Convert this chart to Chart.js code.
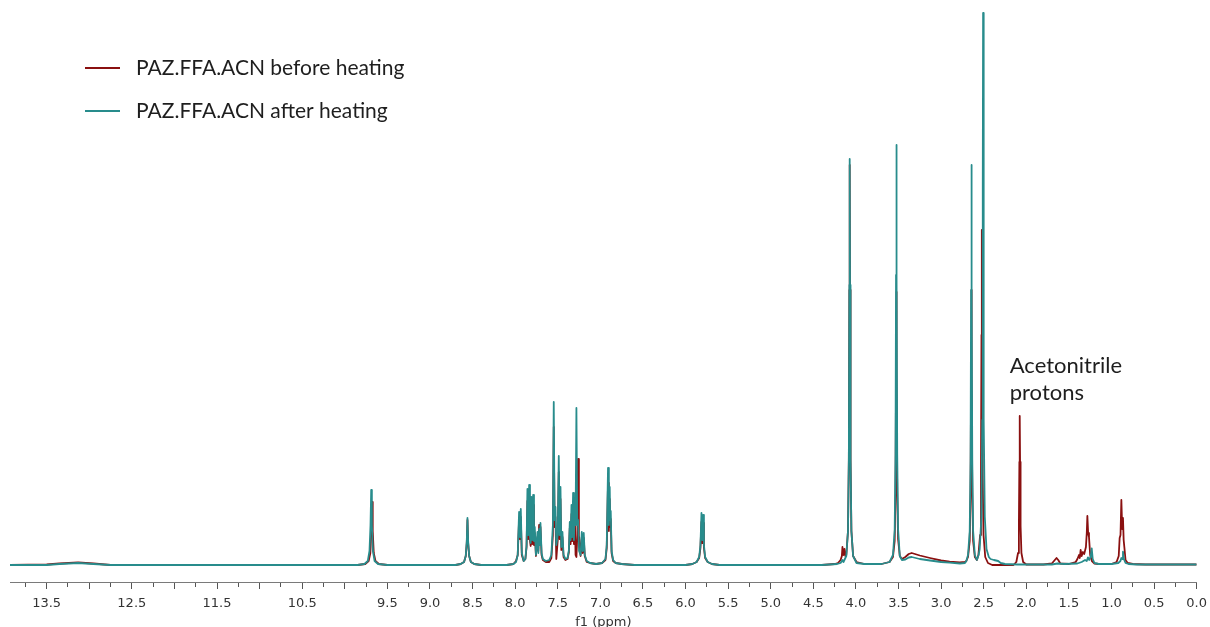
<!DOCTYPE html>
<html>
<head>
<meta charset="utf-8">
<title>PAZ.FFA.ACN 1H NMR</title>
<script src="https://cdn.jsdelivr.net/npm/chart.js@4.4.1/dist/chart.umd.min.js"></script>
<style>
  html, body { margin: 0; padding: 0; background: #fff; }
  #wrap { position: relative; width: 1210px; height: 627px; }
</style>
</head>
<body>
<div id="wrap"><canvas id="nmr"></canvas></div>
<script>
// chemical shift window (ppm), drawn high -> low like a normal 1H spectrum
const ppmMax = 13.93;
const ppmMin = 0;

// labels printed under the axis (left side only every 1 ppm)
const axisLabels = ['13.5', '12.5', '11.5', '10.5', '9.5', '9.0', '8.5', '8.0', '7.5', '7.0',
  '6.5', '6.0', '5.5', '5.0', '4.5', '4.0', '3.5', '3.0', '2.5', '2.0', '1.5', '1.0', '0.5', '0.0'];

const seriesNames = ['PAZ.FFA.ACN before heating', 'PAZ.FFA.ACN after heating'];

// [ppm, intensity], baseline = 0
const beforeHeating = [
  [13.93, 0], [13.5, 0.5], [13.35, 1.5], [13.13, 2.5], [12.95, 1.5], [12.75, 0],
  [9.85, 0], [9.76, 1], [9.72, 4], [9.70, 12], [9.688, 34], [9.68, 63], [9.672, 34], [9.66, 12], [9.64, 4], [9.60, 1], [9.50, 0],
  [8.70, 0], [8.64, 1], [8.60, 3], [8.58, 9], [8.568, 22], [8.56, 45], [8.552, 22], [8.54, 9], [8.52, 3], [8.48, 1], [8.40, 0],
  [8.10, 0], [8.02, 1], [7.99, 4], [7.97, 10], [7.954, 45], [7.944, 26], [7.934, 48], [7.922, 10], [7.90, 4], [7.88, 6],
  [7.866, 18], [7.856, 64], [7.846, 26], [7.836, 68], [7.826, 24], [7.818, 19], [7.809, 58], [7.799, 21], [7.789, 60],
  [7.779, 20], [7.770, 32], [7.756, 9], [7.738, 28], [7.728, 14], [7.719, 40], [7.711, 22], [7.703, 38], [7.69, 10],
  [7.675, 5], [7.64, 3], [7.60, 3], [7.575, 7], [7.557, 30], [7.547, 138], [7.537, 38], [7.527, 48], [7.517, 6],
  [7.50, 25], [7.488, 93], [7.478, 26], [7.468, 66], [7.458, 15], [7.445, 28], [7.432, 8], [7.41, 5], [7.385, 6],
  [7.369, 13], [7.359, 37], [7.349, 21], [7.339, 51], [7.33, 24], [7.320, 61], [7.310, 21], [7.300, 53], [7.291, 10],
  [7.281, 8], [7.27, 30], [7.262, 106], [7.252, 30], [7.232, 9], [7.218, 28], [7.207, 12], [7.195, 27], [7.183, 9],
  [7.16, 3], [7.12, 2], [7.05, 1], [6.98, 2], [6.94, 5], [6.925, 17], [6.910, 82], [6.900, 34], [6.890, 66], [6.884, 38],
  [6.878, 46], [6.868, 12], [6.85, 4], [6.82, 2], [6.75, 1], [6.60, 0],
  [6.00, 0], [5.92, 1], [5.87, 3], [5.84, 7], [5.825, 17], [5.813, 43], [5.803, 22], [5.794, 42], [5.784, 17], [5.77, 7], [5.74, 3], [5.69, 1], [5.60, 0],
  [4.40, 0], [4.25, 1], [4.21, 2], [4.18, 5], [4.165, 9], [4.158, 18], [4.148, 10], [4.135, 16], [4.125, 9], [4.113, 10],
  [4.093, 34], [4.083, 105], [4.077, 275], [4.073, 400], [4.069, 275], [4.063, 105], [4.053, 34], [4.033, 9], [3.993, 3],
  [3.90, 1], [3.70, 1],
  [3.605, 3], [3.565, 8], [3.545, 24], [3.535, 72], [3.529, 190], [3.525, 273], [3.521, 190], [3.515, 72], [3.505, 26],
  [3.485, 9], [3.46, 6], [3.42, 8], [3.38, 11], [3.345, 12], [3.25, 9.5], [3.13, 7], [3.00, 4.5], [2.90, 3.3], [2.78, 2.5], [2.72, 3],
  [2.704, 4], [2.684, 8], [2.664, 24], [2.654, 72], [2.648, 190], [2.644, 275], [2.640, 190], [2.634, 72], [2.624, 24],
  [2.604, 8], [2.58, 5], [2.562, 10], [2.542, 30], [2.532, 90], [2.526, 230], [2.522, 335], [2.518, 230], [2.512, 90],
  [2.502, 30], [2.482, 8], [2.45, 2], [2.40, 0], [2.15, 0],
  [2.117, 3], [2.097, 12], [2.087, 39], [2.081, 103], [2.077, 149], [2.073, 103], [2.067, 39], [2.057, 12], [2.037, 3],
  [2.00, 0.5], [1.80, 0.5], [1.70, 1.5], [1.665, 5], [1.645, 7], [1.625, 5], [1.60, 1.5], [1.50, 1],
  [1.42, 3], [1.40, 6], [1.381, 10], [1.372, 7], [1.362, 15], [1.35, 9], [1.335, 13], [1.32, 11], [1.30, 18], [1.29, 32],
  [1.283, 49], [1.274, 32], [1.264, 28], [1.25, 10], [1.23, 4], [1.20, 1.5], [1.15, 1], [1.00, 1],
  [0.94, 3], [0.915, 9], [0.904, 27], [0.894, 30], [0.884, 65], [0.874, 36], [0.865, 47], [0.857, 25], [0.849, 18],
  [0.835, 5], [0.81, 2], [0.75, 1], [0.60, 0.5], [0.00, 0.5]
];

const afterHeating = [
  [13.93, 0], [13.5, 0], [13.35, 1], [13.13, 2], [12.95, 1], [12.75, 0],
  [9.85, 0], [9.77, 1], [9.73, 4], [9.71, 14], [9.698, 40], [9.69, 75], [9.682, 40], [9.67, 14], [9.65, 4], [9.61, 1], [9.50, 0],
  [8.70, 0], [8.64, 1], [8.60, 3], [8.58, 9], [8.568, 24], [8.56, 47], [8.552, 24], [8.54, 9], [8.52, 3], [8.48, 1], [8.40, 0],
  [8.10, 0], [8.02, 1], [7.99, 3], [7.97, 10], [7.954, 53], [7.944, 28], [7.934, 56], [7.922, 12], [7.90, 4], [7.88, 6],
  [7.866, 20], [7.856, 76], [7.846, 30], [7.836, 80], [7.826, 28], [7.818, 22], [7.809, 68], [7.799, 25], [7.789, 70],
  [7.779, 24], [7.770, 38], [7.756, 10], [7.738, 33], [7.728, 12], [7.719, 36], [7.711, 20], [7.703, 42], [7.69, 12],
  [7.675, 6], [7.64, 4], [7.60, 5], [7.575, 10], [7.557, 40], [7.547, 163], [7.537, 45], [7.527, 58], [7.517, 20],
  [7.50, 30], [7.488, 109], [7.478, 30], [7.468, 78], [7.458, 18], [7.445, 33], [7.432, 10], [7.41, 6], [7.385, 7],
  [7.369, 15], [7.359, 43], [7.349, 25], [7.339, 60], [7.33, 28], [7.320, 72], [7.310, 25], [7.300, 62], [7.291, 40],
  [7.281, 157], [7.271, 40], [7.262, 45], [7.25, 14], [7.232, 10], [7.218, 33], [7.207, 14], [7.195, 32], [7.183, 10],
  [7.16, 4], [7.12, 2], [7.05, 1], [6.98, 2], [6.94, 6], [6.925, 20], [6.910, 97], [6.900, 40], [6.890, 78], [6.884, 45],
  [6.878, 54], [6.868, 14], [6.85, 5], [6.82, 2], [6.75, 1], [6.60, 0],
  [6.00, 0], [5.92, 1], [5.87, 3], [5.84, 8], [5.825, 20], [5.813, 52], [5.803, 25], [5.794, 50], [5.784, 20], [5.77, 8], [5.74, 3], [5.69, 1], [5.60, 0],
  [4.40, 0], [4.22, 1], [4.18, 2], [4.158, 5], [4.146, 3], [4.135, 5], [4.113, 9],
  [4.093, 34], [4.083, 107], [4.077, 280], [4.073, 406], [4.069, 280], [4.063, 107], [4.053, 34], [4.033, 9], [3.993, 2],
  [3.90, 1], [3.70, 1],
  [3.605, 3], [3.565, 10], [3.545, 35], [3.535, 110], [3.529, 290], [3.525, 420], [3.521, 290], [3.515, 110], [3.505, 36],
  [3.485, 9], [3.46, 5], [3.42, 5.5], [3.38, 7.5], [3.345, 8], [3.25, 6], [3.13, 4.5], [3.00, 3], [2.90, 2.3], [2.78, 1.5], [2.72, 2],
  [2.704, 4], [2.684, 10], [2.664, 34], [2.654, 105], [2.648, 275], [2.644, 400], [2.640, 275], [2.634, 105], [2.624, 34],
  [2.604, 10], [2.58, 5], [2.56, 10], [2.547, 16], [2.527, 48], [2.517, 145], [2.511, 380], [2.507, 552], [2.503, 380],
  [2.497, 145], [2.487, 48], [2.467, 16], [2.44, 8], [2.42, 6], [2.38, 5], [2.33, 4], [2.30, 2], [2.25, 1],
  [2.10, 0.5], [1.90, 0.5], [1.70, 0.5], [1.635, 1.5], [1.55, 1], [1.40, 1.5], [1.35, 3], [1.31, 5], [1.29, 4],
  [1.276, 7.7], [1.262, 5], [1.245, 8], [1.232, 16.7], [1.22, 6], [1.20, 2], [1.15, 1], [1.00, 1],
  [0.92, 2], [0.895, 4], [0.884, 7], [0.874, 6], [0.865, 13.3], [0.855, 6], [0.835, 2], [0.80, 1], [0.70, 0.5], [0.00, 0.5]
];

// acetonitrile singlet, only present before heating
const acnPeak = { ppm: 2.077, intensity: 149 };
const acnNote = ['Acetonitrile', 'protons'];

const RED = '#8a1010';
const TEAL = '#288c8c';

// two-line key drawn inside the plot, top left
const seriesKey = {
  id: 'seriesKey',
  afterDatasetsDraw(chart, args, opts) {
    const { ctx, chartArea } = chart;
    ctx.save();
    ctx.font = opts.font;
    ctx.textBaseline = 'middle';
    chart.data.datasets.forEach((ds, i) => {
      const x = chartArea.left + opts.left;
      const y = chartArea.top + opts.top + i * opts.spacing;
      ctx.strokeStyle = ds.borderColor;
      ctx.lineWidth = 2;
      ctx.beginPath();
      ctx.moveTo(x, y);
      ctx.lineTo(x + opts.lineLength, y);
      ctx.stroke();
      ctx.fillStyle = opts.color;
      ctx.fillText(ds.label, x + opts.lineLength + opts.gap, y);
    });
    ctx.restore();
  }
};

// text above the acetonitrile peak
const peakNote = {
  id: 'peakNote',
  afterDatasetsDraw(chart, args, opts) {
    const { ctx, scales } = chart;
    const x = scales.x.getPixelForValue(acnPeak.ppm) + opts.dx;
    const y = scales.y.getPixelForValue(acnPeak.intensity) + opts.dy;
    ctx.save();
    ctx.font = opts.font;
    ctx.fillStyle = opts.color;
    ctx.textBaseline = 'middle';
    acnNote.forEach((line, i) => {
      ctx.fillText(line, x, y - (acnNote.length - 1 - i) * opts.lineGap);
    });
    ctx.restore();
  }
};

new Chart(document.getElementById('nmr'), {
  type: 'line',
  data: {
    datasets: [
      { label: seriesNames[0], data: beforeHeating, borderColor: RED, order: 1 },
      { label: seriesNames[1], data: afterHeating, borderColor: TEAL, order: 0 }
    ]
  },
  options: {
    responsive: true,
    maintainAspectRatio: false,
    animation: false,
    devicePixelRatio: 1,
    layout: { padding: { left: 10, right: 13, top: 0, bottom: 0 } },
    elements: {
      point: { radius: 0 },
      line: { borderWidth: 1.8, tension: 0, borderJoinStyle: 'round', fill: false }
    },
    scales: {
      x: {
        type: 'linear',
        reverse: true,
        min: ppmMin,
        max: ppmMax,
        border: { display: true, color: '#7a7a7a', width: 1 },
        grid: {
          drawOnChartArea: false,
          drawTicks: true,
          tickLength: 7,
          tickColor: '#555',
          tickWidth: 1,
          // quarter-ppm ticks are drawn short
          tickBorderDash: (c) => (Math.round(c.tick.value * 4) % 2 === 1 ? [4, 20] : [])
        },
        ticks: {
          stepSize: 0.25,
          includeBounds: false,
          autoSkip: false,
          maxRotation: 0,
          padding: 3,
          color: '#333',
          font: { family: 'DejaVu Sans', size: 13, lineHeight: '24px' },
          callback: (v) => {
            const s = Number(v).toFixed(1);
            return Math.round(v * 4) % 2 === 0 && axisLabels.includes(s) ? s : '';
          }
        },
        title: {
          display: true,
          text: 'f1 (ppm)',
          color: '#333',
          padding: { top: 0, bottom: 0 },
          font: { family: 'DejaVu Sans', size: 13, lineHeight: '8px' }
        }
      },
      y: { display: false, min: -17, max: 565 }
    },
    plugins: {
      legend: { display: false },
      tooltip: { enabled: false },
      seriesKey: { left: 75, top: 68, spacing: 43, lineLength: 35, gap: 16, font: '21px Lato', color: '#1e1e1e' },
      peakNote: { dx: -10, dy: -23, lineGap: 27, font: '22px Lato', color: '#1e1e1e' }
    }
  },
  plugins: [seriesKey, peakNote]
});
</script>
</body>
</html>
